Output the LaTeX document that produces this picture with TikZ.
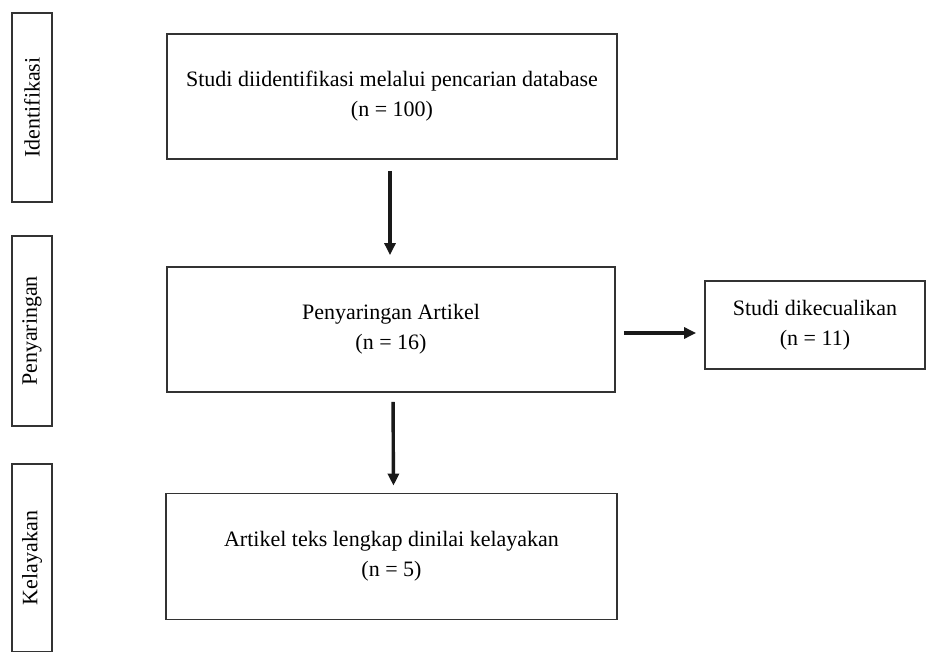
\documentclass[tikz,border=0pt]{standalone}
\usepackage{fontspec}
\setmainfont{Liberation Serif}
\usepackage{tikz}
\usetikzlibrary{arrows.meta,positioning}
\tikzset{>={Triangle[length=12pt,width=11pt]}}
\tikzset{
  stagebox/.style={draw=black!80,line width=1.8pt,inner sep=0pt,align=center,
    font=\fontsize{22}{30}\selectfont},
  sidebox/.style={draw=black!80,line width=1.8pt,inner sep=0pt,minimum width=40pt,
    font=\fontsize{22}{26}\selectfont},
  flow/.style={->,line width=3.4pt,black!90}
}

\begin{document}
\begin{tikzpicture}[x=1pt,y=-1pt]
\useasboundingbox (0,0) rectangle (927,652);

% phase labels on the left
\node[sidebox,minimum height=189pt] (iden) at (32,107.5) {\rotatebox{90}{Identifikasi}};
\node[sidebox,minimum height=190pt] (peny) at (32,331) {\rotatebox{90}{Penyaringan}};
\node[sidebox,minimum height=188pt] (kela) at (32,558) {\rotatebox{90}{Kelayakan}};

% main boxes
\node[stagebox,minimum width=450pt,minimum height=125pt] (db) at (392,96.5)
  {Studi diidentifikasi melalui pencarian database\\(n = 100)};
\node[stagebox,minimum width=448pt,minimum height=125pt] (screen) at (391,329.5)
  {Penyaringan Artikel\\(n = 16)};
\node[stagebox,minimum width=451pt,minimum height=126pt] (elig) at (391.5,556.5)
  {Artikel teks lengkap dinilai kelayakan\\(n = 5)};
\node[stagebox,minimum width=220pt,minimum height=88pt] (excl) at (815,325)
  {Studi dikecualikan\\(n = 11)};

% connectors
\coordinate (side) at ([yshift=-3.5pt]screen.east);
\draw[flow,shorten <=11pt,shorten >=11pt] ([xshift=-2pt]db.south) -- ([xshift=-1pt]screen.north);
\draw[flow,shorten <=9pt,shorten >=7pt] ([xshift=2pt]screen.south) -- ([xshift=2pt]elig.north);
\draw[flow,shorten <=8pt,shorten >=8pt] (side) -- (side -| excl.west);
\end{tikzpicture}
\end{document}
